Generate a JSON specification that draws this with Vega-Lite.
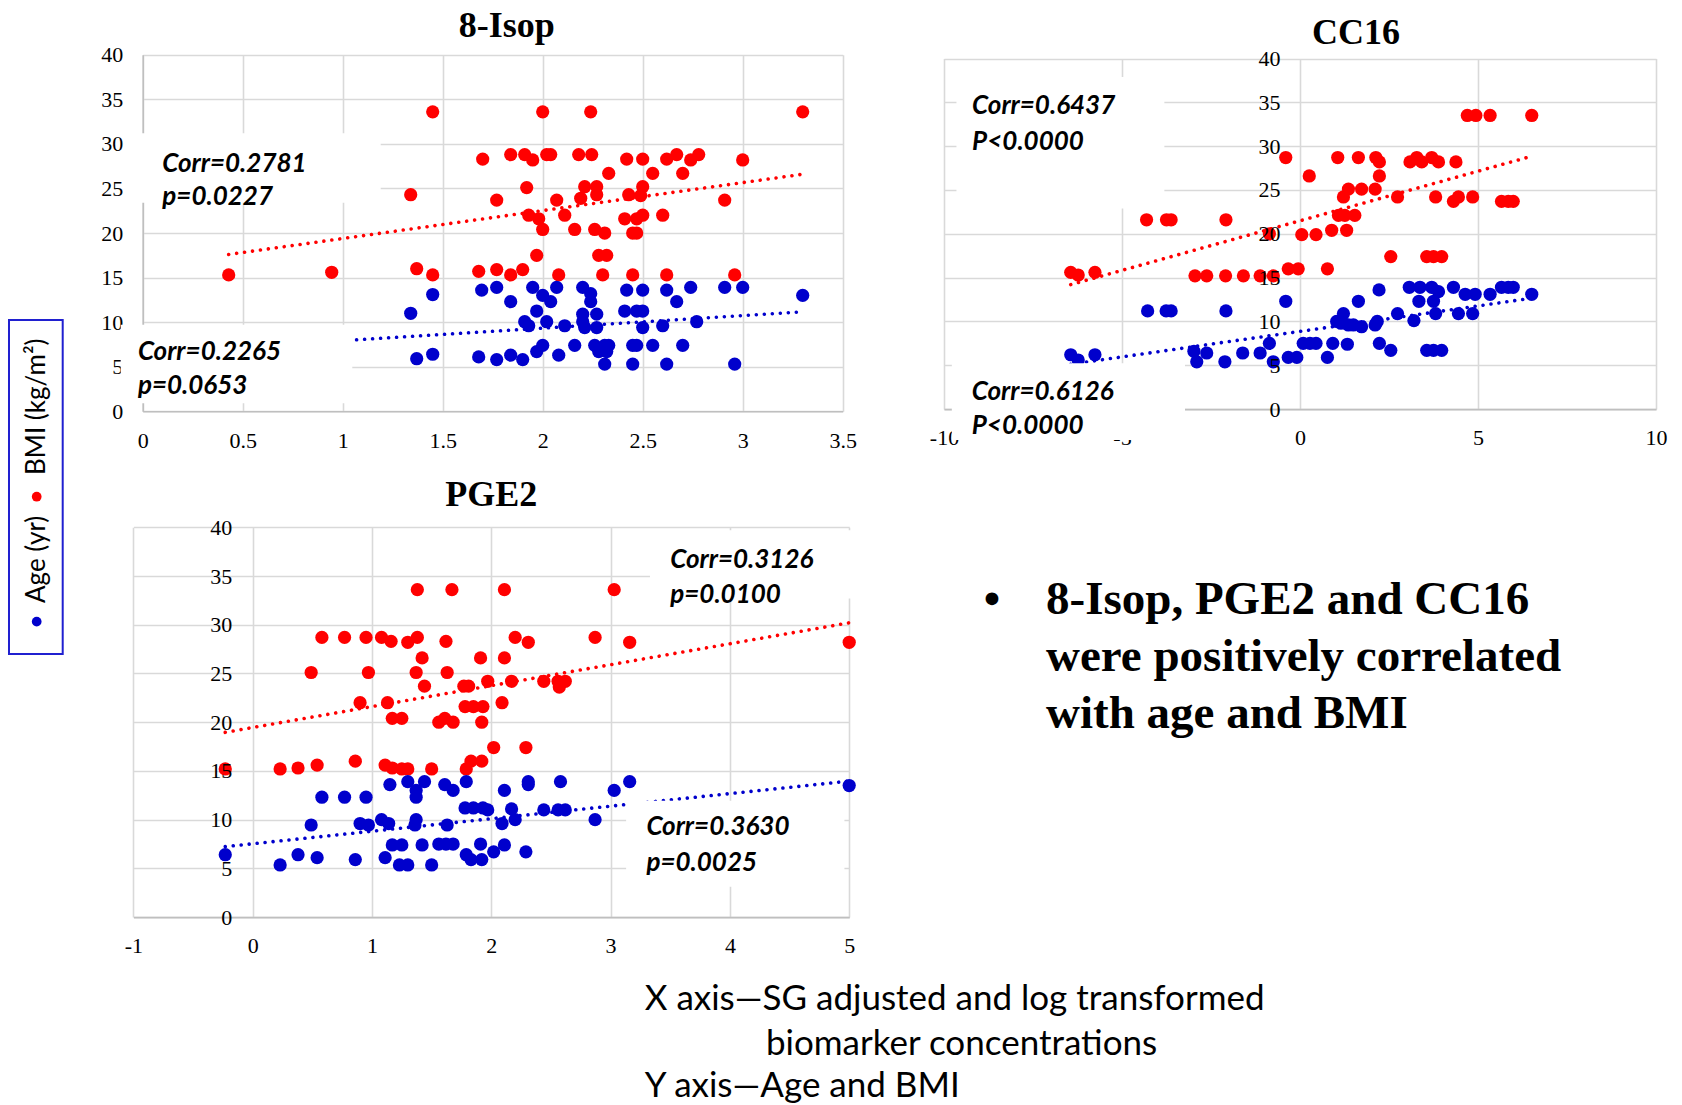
{
"$schema": "https://vega.github.io/schema/vega-lite/v6.json",
"width": 1682, "height": 1105,
"autosize": {"type": "none"},
"padding": 0,
"background": "white",
"config": {
  "view": {"stroke": null},
  "axis": {"ticks": false, "tickSize": 0, "labelFont": "Liberation Serif", "labelFontSize": 22, "labelColor": "#000000", "labelFlush": false, "labelOverlap": false, "labelBound": false, "gridColor": "#d9d9d9", "gridWidth": 1.6, "domainColor": "#bfbfbf", "domainWidth": 1.6}
},
"datasets": {
  "isop_pts": [
    {"s":"BMI","x":2.0,"y":33.6},{"s":"BMI","x":2.24,"y":33.6},{"s":"BMI","x":3.3,"y":33.6},{"s":"BMI","x":1.45,"y":33.6},
    {"s":"BMI","x":1.7,"y":28.3},{"s":"BMI","x":1.84,"y":28.8},{"s":"BMI","x":1.91,"y":28.8},{"s":"BMI","x":1.95,"y":28.2},{"s":"BMI","x":2.02,"y":28.8},{"s":"BMI","x":2.04,"y":28.8},{"s":"BMI","x":2.18,"y":28.8},{"s":"BMI","x":2.245,"y":28.8},{"s":"BMI","x":2.42,"y":28.3},{"s":"BMI","x":2.5,"y":28.3},{"s":"BMI","x":2.62,"y":28.3},{"s":"BMI","x":2.67,"y":28.8},{"s":"BMI","x":2.74,"y":28.2},{"s":"BMI","x":2.78,"y":28.8},{"s":"BMI","x":3.0,"y":28.2},
    {"s":"BMI","x":2.33,"y":26.7},{"s":"BMI","x":2.55,"y":26.7},{"s":"BMI","x":2.7,"y":26.7},
    {"s":"BMI","x":1.92,"y":25.1},{"s":"BMI","x":2.21,"y":25.2},{"s":"BMI","x":2.27,"y":25.2},{"s":"BMI","x":2.5,"y":25.2},
    {"s":"BMI","x":1.34,"y":24.3},{"s":"BMI","x":2.43,"y":24.3},{"s":"BMI","x":2.27,"y":24.3},{"s":"BMI","x":2.49,"y":24.2},{"s":"BMI","x":2.19,"y":23.9},
    {"s":"BMI","x":1.77,"y":23.7},{"s":"BMI","x":2.07,"y":23.7},{"s":"BMI","x":2.91,"y":23.7},
    {"s":"BMI","x":1.93,"y":22.0},{"s":"BMI","x":1.98,"y":21.6},{"s":"BMI","x":2.11,"y":22.0},{"s":"BMI","x":2.41,"y":21.6},{"s":"BMI","x":2.47,"y":21.6},{"s":"BMI","x":2.5,"y":22.0},{"s":"BMI","x":2.6,"y":22.0},
    {"s":"BMI","x":2.0,"y":20.4},{"s":"BMI","x":2.16,"y":20.4},{"s":"BMI","x":2.26,"y":20.4},{"s":"BMI","x":2.31,"y":20.0},{"s":"BMI","x":2.45,"y":20.0},{"s":"BMI","x":2.47,"y":20.0},
    {"s":"BMI","x":1.97,"y":17.5},{"s":"BMI","x":2.28,"y":17.5},{"s":"BMI","x":2.32,"y":17.5},
    {"s":"BMI","x":0.43,"y":15.3},{"s":"BMI","x":0.945,"y":15.6},{"s":"BMI","x":1.37,"y":16.0},{"s":"BMI","x":1.45,"y":15.3},{"s":"BMI","x":1.68,"y":15.7},{"s":"BMI","x":1.77,"y":15.9},{"s":"BMI","x":1.84,"y":15.3},{"s":"BMI","x":1.9,"y":15.9},{"s":"BMI","x":2.08,"y":15.3},{"s":"BMI","x":2.3,"y":15.3},{"s":"BMI","x":2.45,"y":15.3},{"s":"BMI","x":2.62,"y":15.3},{"s":"BMI","x":2.96,"y":15.3},
    {"s":"Age","x":1.695,"y":13.6},{"s":"Age","x":1.77,"y":13.9},{"s":"Age","x":1.84,"y":12.3},{"s":"Age","x":1.95,"y":13.9},{"s":"Age","x":2.0,"y":13.0},{"s":"Age","x":2.04,"y":12.3},{"s":"Age","x":2.07,"y":13.9},{"s":"Age","x":2.2,"y":13.9},{"s":"Age","x":2.24,"y":13.2},{"s":"Age","x":2.24,"y":12.3},{"s":"Age","x":2.42,"y":13.6},{"s":"Age","x":2.5,"y":13.6},{"s":"Age","x":2.62,"y":13.6},{"s":"Age","x":2.67,"y":12.3},{"s":"Age","x":2.74,"y":13.9},{"s":"Age","x":2.91,"y":13.9},{"s":"Age","x":3.0,"y":13.9},{"s":"Age","x":3.3,"y":13.0},
    {"s":"Age","x":1.97,"y":11.25},{"s":"Age","x":1.91,"y":10.05},{"s":"Age","x":1.93,"y":9.6},{"s":"Age","x":2.02,"y":10.05},{"s":"Age","x":2.11,"y":9.6},{"s":"Age","x":2.2,"y":10.9},{"s":"Age","x":2.2,"y":10.05},{"s":"Age","x":2.27,"y":10.9},{"s":"Age","x":2.21,"y":9.4},{"s":"Age","x":2.27,"y":9.4},{"s":"Age","x":2.41,"y":11.25},{"s":"Age","x":2.47,"y":11.25},{"s":"Age","x":2.5,"y":11.25},{"s":"Age","x":2.5,"y":9.4},{"s":"Age","x":2.6,"y":9.6},{"s":"Age","x":2.77,"y":10.05},
    {"s":"Age","x":1.68,"y":6.1},{"s":"Age","x":1.77,"y":5.8},{"s":"Age","x":1.84,"y":6.3},{"s":"Age","x":1.9,"y":5.8},{"s":"Age","x":1.97,"y":6.7},{"s":"Age","x":2.0,"y":7.4},{"s":"Age","x":2.08,"y":6.3},{"s":"Age","x":2.16,"y":7.4},{"s":"Age","x":2.26,"y":7.4},{"s":"Age","x":2.31,"y":7.4},{"s":"Age","x":2.33,"y":7.4},{"s":"Age","x":2.28,"y":6.7},{"s":"Age","x":2.32,"y":6.7},{"s":"Age","x":2.31,"y":5.3},{"s":"Age","x":2.45,"y":7.4},{"s":"Age","x":2.47,"y":7.4},{"s":"Age","x":2.45,"y":5.3},{"s":"Age","x":2.55,"y":7.4},{"s":"Age","x":2.62,"y":5.3},{"s":"Age","x":2.7,"y":7.4},{"s":"Age","x":2.96,"y":5.3},
    {"s":"Age","x":1.34,"y":11.0},{"s":"Age","x":1.37,"y":5.9},{"s":"Age","x":1.45,"y":13.1},{"s":"Age","x":1.45,"y":6.4},{"s":"Age","x":0.43,"y":6.2},{"s":"Age","x":0.945,"y":6.0}
  ],
  "isop_trend": [
    {"s":"BMI","x":0.43,"y":17.6},{"s":"BMI","x":3.3,"y":26.6},{"s":"Age","x":0.43,"y":7.12},{"s":"Age","x":3.3,"y":11.16}
  ],
  "isop_box": [
    {"x":-0.01,"x2":1.19,"y":23.4,"y2":31.2},{"x":-0.11,"x2":1.048,"y":0.9,"y2":9.7}
  ],
  "isop_txt": [
    {"x":0.098,"y":26.9,"t":"Corr=0.2781"},{"x":0.098,"y":23.1,"t":"p=0.0227"},{"x":-0.024,"y":5.76,"t":"Corr=0.2265"},{"x":-0.024,"y":1.94,"t":"p=0.0653"}
  ],
  "cc16_pts": [
    {"s":"BMI","x":4.7,"y":33.5},{"s":"BMI","x":4.94,"y":33.5},{"s":"BMI","x":5.34,"y":33.5},{"s":"BMI","x":6.51,"y":33.5},
    {"s":"BMI","x":-0.4,"y":28.7},{"s":"BMI","x":1.06,"y":28.7},{"s":"BMI","x":1.64,"y":28.7},{"s":"BMI","x":2.13,"y":28.7},{"s":"BMI","x":2.23,"y":28.2},{"s":"BMI","x":3.09,"y":28.2},{"s":"BMI","x":3.28,"y":28.7},{"s":"BMI","x":3.42,"y":28.2},{"s":"BMI","x":3.7,"y":28.7},{"s":"BMI","x":3.89,"y":28.2},{"s":"BMI","x":4.38,"y":28.2},
    {"s":"BMI","x":0.26,"y":26.6},{"s":"BMI","x":2.23,"y":26.6},
    {"s":"BMI","x":1.22,"y":24.2},{"s":"BMI","x":1.36,"y":25.1},{"s":"BMI","x":1.73,"y":25.1},{"s":"BMI","x":2.11,"y":25.1},{"s":"BMI","x":2.74,"y":24.2},{"s":"BMI","x":3.81,"y":24.2},{"s":"BMI","x":4.31,"y":23.7},{"s":"BMI","x":4.45,"y":24.2},{"s":"BMI","x":4.85,"y":24.2},{"s":"BMI","x":5.66,"y":23.7},{"s":"BMI","x":5.85,"y":23.7},{"s":"BMI","x":5.99,"y":23.7},
    {"s":"BMI","x":1.08,"y":22.1},{"s":"BMI","x":1.26,"y":22.1},{"s":"BMI","x":1.54,"y":22.1},
    {"s":"BMI","x":-4.31,"y":21.6},{"s":"BMI","x":-3.75,"y":21.6},{"s":"BMI","x":-3.62,"y":21.6},{"s":"BMI","x":-2.08,"y":21.6},
    {"s":"BMI","x":0.05,"y":19.9},{"s":"BMI","x":0.45,"y":19.9},{"s":"BMI","x":0.89,"y":20.4},{"s":"BMI","x":1.31,"y":20.4},{"s":"BMI","x":-0.86,"y":20.0},
    {"s":"BMI","x":2.55,"y":17.4},{"s":"BMI","x":3.56,"y":17.4},{"s":"BMI","x":3.75,"y":17.4},{"s":"BMI","x":3.98,"y":17.4},
    {"s":"BMI","x":-6.44,"y":15.6},{"s":"BMI","x":-6.23,"y":15.3},{"s":"BMI","x":-5.76,"y":15.6},
    {"s":"BMI","x":-2.95,"y":15.2},{"s":"BMI","x":-2.62,"y":15.2},{"s":"BMI","x":-2.09,"y":15.2},{"s":"BMI","x":-1.59,"y":15.2},{"s":"BMI","x":-1.12,"y":15.2},{"s":"BMI","x":-0.75,"y":15.2},
    {"s":"BMI","x":-0.33,"y":16.0},{"s":"BMI","x":-0.05,"y":16.0},{"s":"BMI","x":0.77,"y":16.0},
    {"s":"Age","x":-6.44,"y":6.2},{"s":"Age","x":-6.23,"y":5.6},{"s":"Age","x":-5.76,"y":6.2},
    {"s":"Age","x":-4.28,"y":11.2},{"s":"Age","x":-3.76,"y":11.2},{"s":"Age","x":-3.62,"y":11.2},{"s":"Age","x":-2.08,"y":11.2},
    {"s":"Age","x":-2.98,"y":6.6},{"s":"Age","x":-2.9,"y":5.4},{"s":"Age","x":-2.62,"y":6.4},{"s":"Age","x":-2.11,"y":5.4},{"s":"Age","x":-1.61,"y":6.4},{"s":"Age","x":-1.12,"y":6.4},{"s":"Age","x":-0.86,"y":7.5},{"s":"Age","x":-0.75,"y":5.4},
    {"s":"Age","x":-0.4,"y":12.3},{"s":"Age","x":-0.33,"y":5.9},{"s":"Age","x":-0.09,"y":5.9},{"s":"Age","x":0.09,"y":7.5},{"s":"Age","x":0.28,"y":7.5},{"s":"Age","x":0.45,"y":7.5},{"s":"Age","x":0.77,"y":5.9},{"s":"Age","x":0.92,"y":7.5},{"s":"Age","x":1.33,"y":7.4},
    {"s":"Age","x":1.64,"y":12.3},{"s":"Age","x":2.22,"y":13.6},
    {"s":"Age","x":1.22,"y":10.9},{"s":"Age","x":1.03,"y":10.0},{"s":"Age","x":1.36,"y":9.6},{"s":"Age","x":1.73,"y":9.4},{"s":"Age","x":2.11,"y":9.6},{"s":"Age","x":2.17,"y":10.0},{"s":"Age","x":1.15,"y":9.8},{"s":"Age","x":1.5,"y":9.6},
    {"s":"Age","x":2.23,"y":7.5},{"s":"Age","x":2.55,"y":6.7},{"s":"Age","x":2.74,"y":10.9},{"s":"Age","x":3.2,"y":10.1},
    {"s":"Age","x":3.07,"y":13.9},{"s":"Age","x":3.37,"y":13.9},{"s":"Age","x":3.7,"y":13.9},{"s":"Age","x":3.89,"y":13.4},
    {"s":"Age","x":3.34,"y":12.3},{"s":"Age","x":3.75,"y":12.3},{"s":"Age","x":3.81,"y":10.9},
    {"s":"Age","x":3.56,"y":6.7},{"s":"Age","x":3.75,"y":6.7},{"s":"Age","x":3.98,"y":6.7},
    {"s":"Age","x":4.31,"y":13.9},{"s":"Age","x":4.64,"y":13.1},{"s":"Age","x":4.92,"y":13.1},{"s":"Age","x":5.34,"y":13.1},
    {"s":"Age","x":4.45,"y":10.9},{"s":"Age","x":4.85,"y":10.9},
    {"s":"Age","x":5.66,"y":13.9},{"s":"Age","x":5.85,"y":13.9},{"s":"Age","x":5.99,"y":13.9},{"s":"Age","x":6.51,"y":13.1}
  ],
  "cc16_trend": [
    {"s":"BMI","x":-6.44,"y":14.2},{"s":"BMI","x":6.51,"y":28.85},{"s":"Age","x":-6.44,"y":5.12},{"s":"Age","x":6.51,"y":12.65}
  ],
  "cc16_box": [
    {"x":-9.65,"x2":-3.81,"y":22.9,"y2":37.9},{"x":-9.78,"x2":-3.23,"y":-3.52,"y2":5.22}
  ],
  "cc16_txt": [
    {"x":-9.21,"y":33.7,"t":"Corr=0.6437"},{"x":-9.21,"y":29.6,"t":"P<0.0000"},{"x":-9.22,"y":1.04,"t":"Corr=0.6126"},{"x":-9.22,"y":-2.87,"t":"P<0.0000"}
  ],
  "pge_pts": [
    {"s":"BMI","x":1.38,"y":33.6},{"s":"BMI","x":1.67,"y":33.6},{"s":"BMI","x":2.11,"y":33.6},{"s":"BMI","x":3.03,"y":33.6},
    {"s":"BMI","x":0.58,"y":28.7},{"s":"BMI","x":0.77,"y":28.7},{"s":"BMI","x":0.95,"y":28.7},{"s":"BMI","x":1.08,"y":28.7},{"s":"BMI","x":1.16,"y":28.3},{"s":"BMI","x":1.3,"y":28.2},{"s":"BMI","x":1.38,"y":28.7},{"s":"BMI","x":1.62,"y":28.3},{"s":"BMI","x":2.2,"y":28.7},{"s":"BMI","x":2.31,"y":28.2},{"s":"BMI","x":2.87,"y":28.7},{"s":"BMI","x":3.16,"y":28.2},{"s":"BMI","x":5.0,"y":28.2},
    {"s":"BMI","x":1.42,"y":26.6},{"s":"BMI","x":1.91,"y":26.6},{"s":"BMI","x":2.11,"y":26.6},
    {"s":"BMI","x":0.49,"y":25.1},{"s":"BMI","x":0.97,"y":25.1},{"s":"BMI","x":1.37,"y":25.1},{"s":"BMI","x":1.63,"y":25.1},
    {"s":"BMI","x":1.44,"y":23.7},{"s":"BMI","x":1.77,"y":23.7},{"s":"BMI","x":1.81,"y":23.7},{"s":"BMI","x":1.97,"y":24.2},{"s":"BMI","x":2.17,"y":24.2},{"s":"BMI","x":2.44,"y":24.2},{"s":"BMI","x":2.56,"y":24.2},{"s":"BMI","x":2.57,"y":23.6},{"s":"BMI","x":2.62,"y":24.2},
    {"s":"BMI","x":0.9,"y":22.0},{"s":"BMI","x":1.13,"y":22.0},{"s":"BMI","x":2.09,"y":22.0},{"s":"BMI","x":1.78,"y":21.6},{"s":"BMI","x":1.85,"y":21.6},{"s":"BMI","x":1.93,"y":21.6},
    {"s":"BMI","x":1.17,"y":20.4},{"s":"BMI","x":1.25,"y":20.4},{"s":"BMI","x":1.56,"y":20.0},{"s":"BMI","x":1.61,"y":20.4},{"s":"BMI","x":1.68,"y":20.0},{"s":"BMI","x":1.92,"y":20.0},
    {"s":"BMI","x":2.02,"y":17.4},{"s":"BMI","x":2.29,"y":17.4},
    {"s":"BMI","x":-0.23,"y":15.2},{"s":"BMI","x":0.23,"y":15.2},{"s":"BMI","x":0.38,"y":15.3},{"s":"BMI","x":0.54,"y":15.6},{"s":"BMI","x":0.86,"y":16.0},{"s":"BMI","x":1.11,"y":15.6},{"s":"BMI","x":1.17,"y":15.3},{"s":"BMI","x":1.25,"y":15.2},{"s":"BMI","x":1.3,"y":15.2},{"s":"BMI","x":1.5,"y":15.2},{"s":"BMI","x":1.79,"y":15.2},{"s":"BMI","x":1.83,"y":16.0},{"s":"BMI","x":1.92,"y":16.0},
    {"s":"Age","x":1.15,"y":13.6},{"s":"Age","x":1.3,"y":13.9},{"s":"Age","x":1.44,"y":13.9},{"s":"Age","x":1.37,"y":13.0},{"s":"Age","x":1.37,"y":12.3},{"s":"Age","x":1.61,"y":13.6},{"s":"Age","x":1.68,"y":13.0},{"s":"Age","x":1.79,"y":13.9},{"s":"Age","x":2.11,"y":13.0},{"s":"Age","x":2.31,"y":13.9},{"s":"Age","x":2.31,"y":13.6},{"s":"Age","x":2.58,"y":13.9},{"s":"Age","x":3.03,"y":13.0},{"s":"Age","x":3.16,"y":13.9},{"s":"Age","x":5.0,"y":13.5},
    {"s":"Age","x":0.58,"y":12.3},{"s":"Age","x":0.77,"y":12.3},{"s":"Age","x":0.95,"y":12.3},
    {"s":"Age","x":1.78,"y":11.2},{"s":"Age","x":1.85,"y":11.2},{"s":"Age","x":1.93,"y":11.2},{"s":"Age","x":1.97,"y":11.0},{"s":"Age","x":2.17,"y":11.1},{"s":"Age","x":2.44,"y":11.0},{"s":"Age","x":2.56,"y":11.0},{"s":"Age","x":2.62,"y":11.0},
    {"s":"Age","x":0.49,"y":9.45},{"s":"Age","x":0.9,"y":9.6},{"s":"Age","x":0.97,"y":9.45},{"s":"Age","x":1.08,"y":10.0},{"s":"Age","x":1.14,"y":9.6},{"s":"Age","x":1.37,"y":10.0},{"s":"Age","x":1.36,"y":9.45},{"s":"Age","x":1.63,"y":9.45},{"s":"Age","x":2.09,"y":9.6},{"s":"Age","x":2.2,"y":10.0},{"s":"Age","x":2.87,"y":10.0},
    {"s":"Age","x":-0.23,"y":6.4},{"s":"Age","x":0.23,"y":5.35},{"s":"Age","x":0.38,"y":6.4},{"s":"Age","x":0.54,"y":6.1},{"s":"Age","x":0.86,"y":5.9},{"s":"Age","x":1.11,"y":6.1},{"s":"Age","x":1.17,"y":7.4},{"s":"Age","x":1.25,"y":7.4},{"s":"Age","x":1.23,"y":5.35},{"s":"Age","x":1.3,"y":5.35},{"s":"Age","x":1.42,"y":7.4},{"s":"Age","x":1.5,"y":5.35},{"s":"Age","x":1.56,"y":7.5},{"s":"Age","x":1.62,"y":7.5},{"s":"Age","x":1.68,"y":7.5},{"s":"Age","x":1.79,"y":6.4},{"s":"Age","x":1.83,"y":5.9},{"s":"Age","x":1.92,"y":5.9},{"s":"Age","x":1.91,"y":7.5},{"s":"Age","x":2.02,"y":6.7},{"s":"Age","x":2.11,"y":7.4},{"s":"Age","x":2.29,"y":6.7}
  ],
  "pge_trend": [
    {"s":"BMI","x":-0.23,"y":18.96},{"s":"BMI","x":5.0,"y":30.2},{"s":"Age","x":-0.23,"y":7.23},{"s":"Age","x":5.0,"y":13.96}
  ],
  "pge_box": [
    {"x":3.33,"x2":5.12,"y":32.7,"y2":39.7},{"x":3.13,"x2":4.96,"y":3.12,"y2":11.95}
  ],
  "pge_txt": [
    {"x":3.5,"y":35.8,"t":"Corr=0.3126"},{"x":3.5,"y":32.2,"t":"p=0.0100"},{"x":3.3,"y":8.42,"t":"Corr=0.3630"},{"x":3.3,"y":4.7,"t":"p=0.0025"}
  ]
},
"layer": [
  {
    "data": {"name": "isop_trend"},
    "mark": {"type": "line", "strokeDash": [0.01, 8], "strokeCap": "round", "strokeWidth": 3.6},
    "encoding": {
      "x": {"field": "x", "type": "quantitative", "scale": {"domain": [0, 3.5], "range": [142.7, 842.7], "nice": false, "zero": false}, "axis": {"orient": "top", "grid": true, "labels": false, "domain": false, "values": [0, 0.5, 1, 1.5, 2, 2.5, 3, 3.5], "title": null}},
      "y": {"field": "y", "type": "quantitative", "scale": {"domain": [0, 40], "range": [411.3, 54.8], "nice": false, "zero": false}, "axis": {"orient": "left", "offset": -142.7, "grid": true, "labels": false, "domain": false, "values": [0, 5, 10, 15, 20, 25, 30, 35, 40], "title": null}},
      "color": {"field": "s", "type": "nominal", "scale": {"domain": ["BMI", "Age"], "range": ["#ff0000", "#0000cc"]}, "legend": null}
    }
  },
  {
    "encoding": {
      "x": {"field": "x", "type": "quantitative", "scale": {"domain": [0, 3.5], "range": [142.7, 842.7], "nice": false, "zero": false}, "axis": {"orient": "bottom", "offset": -693.7, "grid": false, "domain": true, "values": [0, 0.5, 1, 1.5, 2, 2.5, 3, 3.5], "labelPadding": 19, "labelFont": "Liberation Serif", "labelFontSize": 22, "labelExpr": "'' + datum.value", "title": null}},
      "y": {"field": "y", "type": "quantitative", "scale": {"domain": [0, 40], "range": [411.3, 54.8], "nice": false, "zero": false}, "axis": {"orient": "left", "offset": -142.7, "grid": false, "domain": true, "values": [0, 5, 10, 15, 20, 25, 30, 35, 40], "labelPadding": 20, "labelFont": "Liberation Serif", "labelFontSize": 22, "labelExpr": "'' + datum.value", "title": null}}
    },
    "layer": [
      {"data": {"name": "isop_pts"}, "mark": {"type": "circle", "size": 175, "opacity": 1}, "encoding": {"color": {"field": "s", "type": "nominal", "scale": {"domain": ["BMI", "Age"], "range": ["#ff0000", "#0000cc"]}, "legend": null}}},
      {"data": {"name": "isop_box"}, "mark": {"type": "rect", "color": "white"}, "encoding": {"x2": {"field": "x2"}, "y2": {"field": "y2"}}},
      {"data": {"name": "isop_txt"}, "mark": {"type": "text", "font": "Lato", "fontSize": 26, "fontWeight": "bold", "fontStyle": "italic", "align": "left", "baseline": "alphabetic", "color": "#000000"}, "encoding": {"text": {"field": "t"}}},
      {"data": {"values": [{"x": 1.82, "y": 42.0, "t": "8-Isop"}]}, "mark": {"type": "text", "font": "Liberation Serif", "fontSize": 36, "fontWeight": "bold", "align": "center", "baseline": "alphabetic", "color": "#000000"}, "encoding": {"text": {"field": "t"}}}
    ]
  },
  {
    "data": {"name": "cc16_trend"},
    "mark": {"type": "line", "strokeDash": [0.01, 8], "strokeCap": "round", "strokeWidth": 3.6},
    "encoding": {
      "x": {"field": "x", "type": "quantitative", "scale": {"domain": [-10, 10], "range": [944, 1656], "nice": false, "zero": false}, "axis": {"orient": "top", "grid": true, "labels": false, "domain": false, "values": [-10, -5, 0, 5, 10], "title": null}},
      "y": {"field": "y", "type": "quantitative", "scale": {"domain": [0, 40], "range": [409.1, 58.5], "nice": false, "zero": false}, "axis": {"orient": "left", "offset": -944, "grid": true, "labels": false, "domain": false, "values": [0, 5, 10, 15, 20, 25, 30, 35, 40], "title": null}},
      "color": {"field": "s", "type": "nominal", "scale": {"domain": ["BMI", "Age"], "range": ["#ff0000", "#0000cc"]}, "legend": null}
    }
  },
  {
    "encoding": {
      "x": {"field": "x", "type": "quantitative", "scale": {"domain": [-10, 10], "range": [944, 1656], "nice": false, "zero": false}, "axis": {"orient": "bottom", "offset": -695.9, "grid": false, "domain": true, "values": [-10, -5, 0, 5, 10], "labelPadding": 18, "labelFont": "Liberation Serif", "labelFontSize": 22, "labelExpr": "'' + datum.value", "title": null}},
      "y": {"field": "y", "type": "quantitative", "scale": {"domain": [0, 40], "range": [409.1, 58.5], "nice": false, "zero": false}, "axis": {"orient": "left", "offset": -1300, "grid": false, "domain": false, "zindex": 1, "values": [0, 5, 10, 15, 20, 25, 30, 35, 40], "labelPadding": 20, "labelFont": "Liberation Serif", "labelFontSize": 22, "labelExpr": "'' + datum.value", "title": null}}
    },
    "layer": [
      {"data": {"name": "cc16_pts"}, "mark": {"type": "circle", "size": 175, "opacity": 1}, "encoding": {"color": {"field": "s", "type": "nominal", "scale": {"domain": ["BMI", "Age"], "range": ["#ff0000", "#0000cc"]}, "legend": null}}},
      {"data": {"name": "cc16_box"}, "mark": {"type": "rect", "color": "white"}, "encoding": {"x2": {"field": "x2"}, "y2": {"field": "y2"}}},
      {"data": {"name": "cc16_txt"}, "mark": {"type": "text", "font": "Lato", "fontSize": 26, "fontWeight": "bold", "fontStyle": "italic", "align": "left", "baseline": "alphabetic", "color": "#000000"}, "encoding": {"text": {"field": "t"}}},
      {"data": {"values": [{"x": 1.57, "y": 41.7, "t": "CC16"}]}, "mark": {"type": "text", "font": "Liberation Serif", "fontSize": 36, "fontWeight": "bold", "align": "center", "baseline": "alphabetic", "color": "#000000"}, "encoding": {"text": {"field": "t"}}}
    ]
  },
  {
    "data": {"name": "pge_trend"},
    "mark": {"type": "line", "strokeDash": [0.01, 8], "strokeCap": "round", "strokeWidth": 3.6},
    "encoding": {
      "x": {"field": "x", "type": "quantitative", "scale": {"domain": [-1, 5], "range": [133.4, 849.2], "nice": false, "zero": false}, "axis": {"orient": "top", "grid": true, "labels": false, "domain": false, "values": [-1, 0, 1, 2, 3, 4, 5], "title": null}},
      "y": {"field": "y", "type": "quantitative", "scale": {"domain": [0, 40], "range": [917.1, 527.3], "nice": false, "zero": false}, "axis": {"orient": "left", "offset": -133.4, "grid": true, "labels": false, "domain": false, "values": [0, 5, 10, 15, 20, 25, 30, 35, 40], "title": null}},
      "color": {"field": "s", "type": "nominal", "scale": {"domain": ["BMI", "Age"], "range": ["#ff0000", "#0000cc"]}, "legend": null}
    }
  },
  {
    "encoding": {
      "x": {"field": "x", "type": "quantitative", "scale": {"domain": [-1, 5], "range": [133.4, 849.2], "nice": false, "zero": false}, "axis": {"orient": "bottom", "offset": -187.9, "grid": false, "domain": true, "values": [-1, 0, 1, 2, 3, 4, 5], "labelPadding": 18, "labelFont": "Liberation Serif", "labelFontSize": 22, "labelExpr": "'' + datum.value", "title": null}},
      "y": {"field": "y", "type": "quantitative", "scale": {"domain": [0, 40], "range": [917.1, 527.3], "nice": false, "zero": false}, "axis": {"orient": "left", "offset": -252.7, "grid": false, "domain": false, "zindex": 1, "values": [0, 5, 10, 15, 20, 25, 30, 35, 40], "labelPadding": 21, "labelFont": "Liberation Serif", "labelFontSize": 22, "labelExpr": "'' + datum.value", "title": null}}
    },
    "layer": [
      {"data": {"name": "pge_pts"}, "mark": {"type": "circle", "size": 175, "opacity": 1}, "encoding": {"color": {"field": "s", "type": "nominal", "scale": {"domain": ["BMI", "Age"], "range": ["#ff0000", "#0000cc"]}, "legend": null}}},
      {"data": {"name": "pge_box"}, "mark": {"type": "rect", "color": "white"}, "encoding": {"x2": {"field": "x2"}, "y2": {"field": "y2"}}},
      {"data": {"name": "pge_txt"}, "mark": {"type": "text", "font": "Lato", "fontSize": 26, "fontWeight": "bold", "fontStyle": "italic", "align": "left", "baseline": "alphabetic", "color": "#000000"}, "encoding": {"text": {"field": "t"}}},
      {"data": {"values": [{"x": 2.0, "y": 42.2, "t": "PGE2"}]}, "mark": {"type": "text", "font": "Liberation Serif", "fontSize": 36, "fontWeight": "bold", "align": "center", "baseline": "alphabetic", "color": "#000000"}, "encoding": {"text": {"field": "t"}}}
    ]
  },
  {
    "encoding": {
      "x": {"field": "x", "type": "quantitative", "scale": {"domain": [0, 1], "range": [0, 1682], "nice": false, "zero": false}, "axis": null},
      "y": {"field": "y", "type": "quantitative", "scale": {"domain": [0, 1], "range": [0, 1105], "nice": false, "zero": false}, "axis": null}
    },
    "layer": [
      {"data": {"values": [{"x": 0.00535, "x2": 0.03728, "y": 0.2896, "y2": 0.5919}]}, "mark": {"type": "rect", "filled": false, "color": "#2020d0", "strokeWidth": 2}, "encoding": {"x2": {"field": "x2"}, "y2": {"field": "y2"}}},
      {"data": {"values": [{"x": 0.02182, "y": 0.5626, "s": "Age"}, {"x": 0.02182, "y": 0.4495, "s": "BMI"}]}, "mark": {"type": "circle", "size": 95, "opacity": 1}, "encoding": {"color": {"field": "s", "type": "nominal", "scale": {"domain": ["BMI", "Age"], "range": ["#ff0000", "#0000cc"]}, "legend": null}}},
      {"data": {"values": [{"x": 0.02675, "y": 0.5457, "t": "Age (yr)"}, {"x": 0.02675, "y": 0.4299, "t": "BMI (kg/m²)"}]}, "mark": {"type": "text", "font": "Lato", "fontSize": 26, "angle": 270, "align": "left", "baseline": "alphabetic", "color": "#000000"}, "encoding": {"text": {"field": "t"}}},
      {"data": {"values": [{"x": 0.5898, "y": 0.5557, "t": "•"}]}, "mark": {"type": "text", "font": "Liberation Serif", "fontSize": 47, "fontWeight": "bold", "align": "center", "baseline": "alphabetic", "color": "#000000"}, "encoding": {"text": {"field": "t"}}},
      {"data": {"values": [{"x": 0.6219, "y": 0.5557, "t": "8-Isop, PGE2 and CC16"}, {"x": 0.6219, "y": 0.6072, "t": "were positively correlated"}, {"x": 0.6219, "y": 0.6588, "t": "with age and BMI"}]}, "mark": {"type": "text", "font": "Liberation Serif", "fontSize": 47, "fontWeight": "bold", "align": "left", "baseline": "alphabetic", "color": "#000000"}, "encoding": {"text": {"field": "t"}}},
      {"data": {"values": [{"x": 0.3833, "y": 0.914, "t": "X axis—SG adjusted and log transformed"}, {"x": 0.4554, "y": 0.9548, "t": "biomarker concentrations"}, {"x": 0.3833, "y": 0.9925, "t": "Y axis—Age and BMI"}]}, "mark": {"type": "text", "font": "Lato", "fontSize": 35, "align": "left", "baseline": "alphabetic", "color": "#000000"}, "encoding": {"text": {"field": "t"}}}
    ]
  }
],
"resolve": {"scale": {"x": "independent", "y": "independent"}, "axis": {"x": "independent", "y": "independent"}}
}
